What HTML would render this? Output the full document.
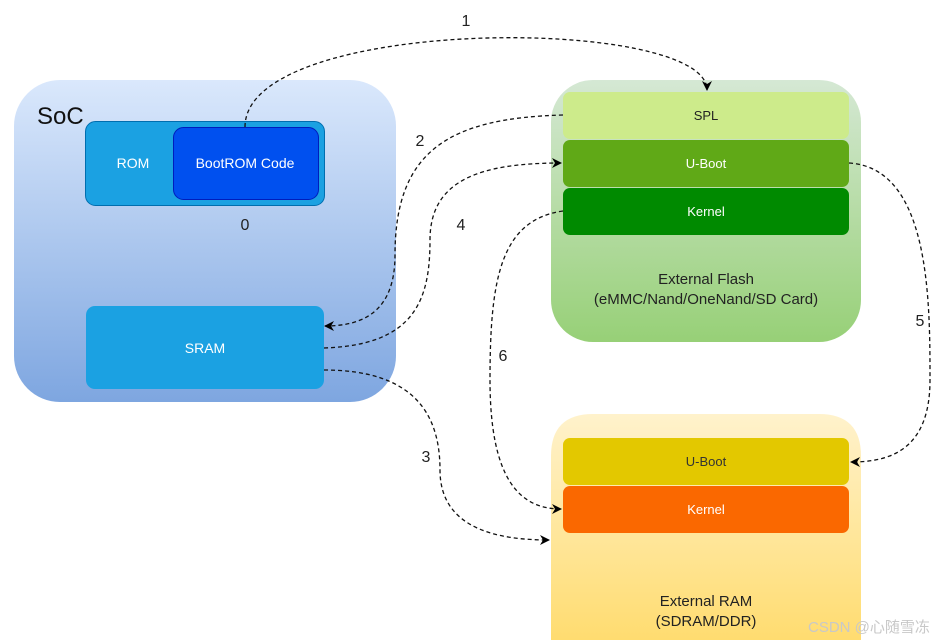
<!DOCTYPE html>
<html><head><meta charset="utf-8"><style>
html,body{margin:0;padding:0;background:#fff;width:949px;height:640px;overflow:hidden;}
svg{display:block;font-family:"Liberation Sans","Noto Sans CJK SC",sans-serif;}
</style></head><body>
<svg width="949" height="640" viewBox="0 0 949 640" xmlns="http://www.w3.org/2000/svg">
<defs>
<linearGradient id="gb" x1="0" y1="0" x2="0" y2="1"><stop offset="0" stop-color="#dae8fc"/><stop offset="1" stop-color="#7ea6e0"/></linearGradient>
<linearGradient id="gg" x1="0" y1="0" x2="0" y2="1"><stop offset="0" stop-color="#d5e8d4"/><stop offset="1" stop-color="#97d077"/></linearGradient>
<linearGradient id="gy" x1="0" y1="0" x2="0" y2="1"><stop offset="0" stop-color="#fff2cc"/><stop offset="1" stop-color="#ffdc70"/></linearGradient>
<marker id="ar" viewBox="0 0 10 10" refX="9" refY="5" markerWidth="10" markerHeight="10" markerUnits="userSpaceOnUse" orient="auto"><path d="M0,0 L10,5 L0,10 L3,5 Z" fill="#000"/></marker>
</defs>
<rect x="14" y="80" width="382" height="322" rx="46" fill="url(#gb)"/>
<text x="37" y="124" font-size="24" fill="#111">SoC</text>
<rect x="85.5" y="121.5" width="239" height="84" rx="10" fill="#1ba1e2" stroke="#006eaf"/>
<rect x="173.5" y="127.5" width="145" height="72" rx="10" fill="#0050ef" stroke="#001dbc"/>
<text x="133" y="168" font-size="14" fill="#fff" text-anchor="middle">ROM</text>
<text x="245" y="168" font-size="14" fill="#fff" text-anchor="middle">BootROM Code</text>
<text x="245" y="230" font-size="16" fill="#222" text-anchor="middle">0</text>
<rect x="86" y="306" width="238" height="83" rx="9" fill="#1ba1e2"/>
<text x="205" y="353" font-size="14" fill="#fff" text-anchor="middle">SRAM</text>

<rect x="551" y="80" width="310" height="262" rx="42" fill="url(#gg)"/>
<rect x="563" y="92" width="286" height="47" rx="7" fill="#cdeb8b"/>
<rect x="563" y="140" width="286" height="47" rx="7" fill="#60a917"/>
<rect x="563" y="188" width="286" height="47" rx="7" fill="#008a00"/>
<text x="706" y="120" font-size="13" fill="#222" text-anchor="middle">SPL</text>
<text x="706" y="168" font-size="13" fill="#fff" text-anchor="middle">U-Boot</text>
<text x="706" y="216" font-size="13" fill="#fff" text-anchor="middle">Kernel</text>
<text x="706" y="284" font-size="15" fill="#222" text-anchor="middle">External Flash</text>
<text x="706" y="304" font-size="15" fill="#222" text-anchor="middle">(eMMC/Nand/OneNand/SD Card)</text>

<path d="M551,640 L551,456 Q551,414 593,414 L819,414 Q861,414 861,456 L861,640 Z" fill="url(#gy)"/>
<rect x="563" y="438" width="286" height="47" rx="7" fill="#e3c800"/>
<rect x="563" y="486" width="286" height="47" rx="7" fill="#fa6800"/>
<text x="706" y="466" font-size="13" fill="#333" text-anchor="middle">U-Boot</text>
<text x="706" y="514" font-size="13" fill="#fff" text-anchor="middle">Kernel</text>
<text x="706" y="606" font-size="15" fill="#222" text-anchor="middle">External RAM</text>
<text x="706" y="626" font-size="15" fill="#222" text-anchor="middle">(SDRAM/DDR)</text>

<g fill="none" stroke="#111" stroke-width="1.3" stroke-dasharray="4 3" marker-end="url(#ar)">
<path d="M245,127 C245,15 707,15 707,90"/>
<path d="M563,115 C450,118 395,150 395,255 C395,310 365,326 325,326"/>
<path d="M324,348 C415,345 430,300 430,240 C430,180 480,163 561,163"/>
<path d="M324,370 C415,370 440,415 440,470 C440,530 500,540 549,540"/>
<path d="M849,163 C930,168 930,300 930,380 C930,450 890,462 851,462"/>
<path d="M563,211 C500,220 490,280 490,380 C490,480 520,509 561,509"/>
</g>
<g font-size="16" fill="#222" text-anchor="middle">
<text x="466" y="26">1</text>
<text x="420" y="146">2</text>
<text x="461" y="230">4</text>
<text x="426" y="462">3</text>
<text x="920" y="326">5</text>
<text x="503" y="361">6</text>
</g>
<text x="808" y="632" font-size="15" fill="#c8c8c8">CSDN @心随雪冻</text>
</svg>
</body></html>
